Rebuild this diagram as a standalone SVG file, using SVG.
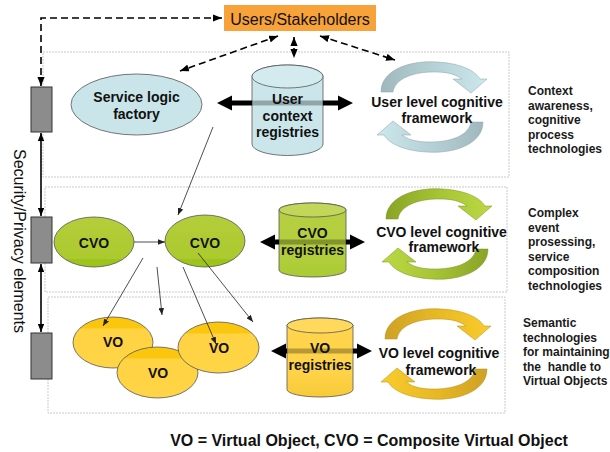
<svg xmlns="http://www.w3.org/2000/svg" xmlns:xlink="http://www.w3.org/1999/xlink" width="610" height="452" viewBox="0 0 610 452">
<style>
text{font-family:"Liberation Sans",Arial,sans-serif;fill:#111}
.b{font-weight:bold;font-size:14px}
.side{font-weight:bold;font-size:12px;fill:#1a1a1a}
.lane{fill:none;stroke:#c9c9c9;stroke-width:1;stroke-dasharray:2 1}
.dash{fill:none;stroke:#000;stroke-width:1.6;stroke-dasharray:7 4;marker-start:url(#ah);marker-end:url(#ah)}
.thin{fill:none;stroke:#222;stroke-width:0.8;marker-end:url(#ta)}
.solid{fill:none;stroke:#000;stroke-width:1.6;marker-start:url(#sa);marker-end:url(#sa)}
.thick{fill:#000}
.band{fill:#000;fill-opacity:0.28}
.gray{fill:#8c8c8c;stroke:#333;stroke-width:1}
.edge{stroke:#555;stroke-width:0.8}
</style>
<defs>
<marker id="ah" viewBox="0 0 10 8" refX="10" refY="4" markerWidth="9" markerHeight="7.2" markerUnits="userSpaceOnUse" orient="auto-start-reverse"><path d="M0,0 L10,4 L0,8 z" fill="#000"/></marker>
<marker id="sa" viewBox="0 0 10 8" refX="10" refY="4" markerWidth="8" markerHeight="6.4" markerUnits="userSpaceOnUse" orient="auto-start-reverse"><path d="M0,0 L10,4 L0,8 z" fill="#000"/></marker>
<marker id="ta" viewBox="0 0 10 8" refX="10" refY="4" markerWidth="7" markerHeight="5.6" markerUnits="userSpaceOnUse" orient="auto"><path d="M0,0 L10,4 L0,8 z" fill="#222"/></marker>
<linearGradient id="gBlue" x1="0" y1="0" x2="1" y2="0"><stop offset="0" stop-color="#9fb8bd"/><stop offset="0.45" stop-color="#b4cfd4"/><stop offset="1" stop-color="#cbe8ec"/></linearGradient>
<linearGradient id="gGreen" x1="0" y1="0" x2="1" y2="0"><stop offset="0" stop-color="#8aa326"/><stop offset="0.5" stop-color="#a6c434"/><stop offset="1" stop-color="#bcd944"/></linearGradient>
<linearGradient id="gGold" x1="0" y1="0" x2="1" y2="0"><stop offset="0" stop-color="#cfa126"/><stop offset="0.5" stop-color="#e9b923"/><stop offset="1" stop-color="#f9cc2c"/></linearGradient>
<linearGradient id="gCvo" x1="0" y1="0" x2="0" y2="1"><stop offset="0" stop-color="#b3ce3a"/><stop offset="0.84" stop-color="#acc92f"/><stop offset="0.85" stop-color="#9dc41b"/><stop offset="1" stop-color="#9dc41b"/></linearGradient>
<linearGradient id="gVo" x1="0" y1="0" x2="0" y2="1"><stop offset="0" stop-color="#fbc70e"/><stop offset="0.22" stop-color="#fbc70e"/><stop offset="0.23" stop-color="#ffd342"/><stop offset="1" stop-color="#ffd446"/></linearGradient>
<linearGradient id="gCvoCyl" x1="0" y1="0" x2="0" y2="1"><stop offset="0" stop-color="#b6cf42"/><stop offset="0.7" stop-color="#b3ce3d"/><stop offset="1" stop-color="#a9cb33"/></linearGradient>
<linearGradient id="gVoCyl" x1="0" y1="0" x2="0" y2="1"><stop offset="0" stop-color="#ffd54e"/><stop offset="0.7" stop-color="#ffd348"/><stop offset="1" stop-color="#f7ca38"/></linearGradient>
<path id="cyc" d="M -51,-15 C -51,-38 -20,-47 5,-45 C 25,-44 42,-38 48,-28 L 55,-28 L 39,-14 L 21,-28 L 30,-28 C 22,-34 12,-35 2,-35 C -20,-35 -37,-28 -39,-15 Z"/>
</defs>

<g id="lanes">
<rect class="lane" x="43" y="52" width="466" height="125"/>
<rect class="lane" x="45" y="187" width="462" height="105"/>
<rect class="lane" x="48" y="297" width="457" height="116"/>
</g>

<g id="users">
<rect x="224" y="5" width="152" height="26" fill="#f8a23a"/>
<text x="300" y="25" font-size="16" text-anchor="middle">Users/Stakeholders</text>
</g>

<g id="security">
<rect class="gray" x="31" y="87" width="21" height="45"/>
<rect class="gray" x="31" y="217" width="21" height="46"/>
<rect class="gray" x="31" y="333" width="21" height="46"/>
<text transform="translate(13.5,241) rotate(90)" font-size="16" text-anchor="middle">Security/Privacy elements</text>
</g>

<g id="service-logic">
<ellipse cx="136.5" cy="104.5" rx="65.5" ry="30.5" fill="#cae5e9" class="edge"/>
<text class="b" x="136.5" y="102" text-anchor="middle">Service logic</text>
<text class="b" x="136.5" y="119" text-anchor="middle">factory</text>
</g>

<g id="user-context">
<path d="M252,76.5 L252,144 A35.5,11.5 0 0 0 323,144 L323,76.5 A35.5,11.5 0 0 0 252,76.5 Z" fill="#cbe6ea" class="edge"/>
<ellipse cx="287.5" cy="76.5" rx="35.5" ry="11.5" fill="#d3ebee" class="edge"/>
</g>

<g id="user-cog">
<use xlink:href="#cyc" transform="translate(432,107)" fill="url(#gBlue)" stroke="#8aa0a4" stroke-width="0.5"/>
<use xlink:href="#cyc" transform="translate(432,107) rotate(180)" fill="url(#gBlue)" stroke="#8aa0a4" stroke-width="0.5"/>
<text class="b" x="437" y="107" text-anchor="middle">User level cognitive</text>
<text class="b" x="437" y="123" text-anchor="middle">framework</text>
</g>

<g id="cvo1">
<ellipse cx="94" cy="242" rx="40" ry="25" fill="url(#gCvo)" class="edge"/>
<text class="b" x="94" y="248" text-anchor="middle">CVO</text>
</g>
<g id="cvo2">
<ellipse cx="205" cy="241" rx="40" ry="26" fill="url(#gCvo)" class="edge"/>
<text class="b" x="205" y="248" text-anchor="middle">CVO</text>
</g>

<g id="cvo-registries">
<path d="M279,210 L279,270 A33.5,7 0 0 0 346,270 L346,210 A33.5,7 0 0 0 279,210 Z" fill="url(#gCvoCyl)" class="edge"/>
<ellipse cx="312.5" cy="210" rx="33.5" ry="7" fill="#c2d759" class="edge"/>
</g>

<g id="cvo-cog">
<use xlink:href="#cyc" transform="translate(437,234)" fill="url(#gGreen)" stroke="#7b8f25" stroke-width="0.5"/>
<use xlink:href="#cyc" transform="translate(437,234) rotate(180)" fill="url(#gGreen)" stroke="#7b8f25" stroke-width="0.5"/>
<text class="b" x="441.5" y="237" text-anchor="middle">CVO level cognitive</text>
<text class="b" x="444" y="252" text-anchor="middle">framework</text>
</g>

<g id="vo1">
<ellipse cx="113" cy="342.5" rx="40" ry="25.5" fill="url(#gVo)" class="edge"/>
<text class="b" x="113" y="347" text-anchor="middle">VO</text>
</g>
<g id="vo2">
<ellipse cx="157.5" cy="372.5" rx="40.5" ry="25.5" fill="url(#gVo)" class="edge"/>
<text class="b" x="158" y="378" text-anchor="middle">VO</text>
</g>
<g id="vo3">
<ellipse cx="218.5" cy="347.5" rx="40.5" ry="25.5" fill="url(#gVo)" class="edge"/>
<text class="b" x="219" y="353" text-anchor="middle">VO</text>
</g>

<g id="vo-registries">
<path d="M287,325.5 L287,389.5 A33,7.5 0 0 0 353,389.5 L353,325.5 A33,7.5 0 0 0 287,325.5 Z" fill="url(#gVoCyl)" class="edge"/>
<ellipse cx="320" cy="325.5" rx="33" ry="7.5" fill="#ffd95c" class="edge"/>
</g>

<g id="vo-cog">
<use xlink:href="#cyc" transform="translate(436,354)" fill="url(#gGold)" stroke="#b08d1a" stroke-width="0.5"/>
<use xlink:href="#cyc" transform="translate(436,354) rotate(180)" fill="url(#gGold)" stroke="#b08d1a" stroke-width="0.5"/>
<text class="b" x="439" y="358" text-anchor="middle">VO level cognitive</text>
<text class="b" x="441" y="375" text-anchor="middle">framework</text>
</g>

<g id="connectors">
<path class="dash" d="M41,86 L41,18 L222,18"/>
<path class="dash" d="M278,36 L180,71"/>
<path class="dash" d="M294,37 L294,58" stroke-dasharray="4 3"/>
<path class="dash" d="M320,36 L395,60"/>
<path class="solid" d="M41,133 L41,216"/>
<path class="solid" d="M41,264 L41,332"/>
<path class="thin" d="M213,127 L178,215"/>
<path class="thin" d="M134,242 L165,242"/>
<path class="thin" d="M143,258 L103,326"/>
<path class="thin" d="M157,267 L162,315"/>
<path class="thin" d="M183,267 L216,344"/>
<path class="thin" d="M198,253 L253,322"/>
<path class="thick" d="M217,103 L232,95.5 L232,100.5 L252,100.5 L252,105.5 L232,105.5 L232,110.5 Z"/>
<path class="thick" d="M353,103 L338,95.5 L338,100.5 L323,100.5 L323,105.5 L338,105.5 L338,110.5 Z"/>
<rect class="band" x="252" y="100.5" width="71" height="5"/>
<path class="thick" d="M260,242 L275,234.5 L275,239.5 L279,239.5 L279,244.5 L275,244.5 L275,249.5 Z"/>
<path class="thick" d="M365,242 L350,234.5 L350,239.5 L346,239.5 L346,244.5 L350,244.5 L350,249.5 Z"/>
<rect class="band" x="279" y="239.5" width="67" height="5"/>
<path class="thick" d="M271,351 L286,343.5 L286,348.5 L287,348.5 L287,353.5 L286,353.5 L286,358.5 Z"/>
<path class="thick" d="M372,351 L357,343.5 L357,348.5 L353,348.5 L353,353.5 L357,353.5 L357,358.5 Z"/>
<rect class="band" x="287" y="348.5" width="66" height="5"/>
</g>

<g id="registry-labels">
<text class="b" x="287.5" y="104" text-anchor="middle">User</text>
<text class="b" x="287.5" y="121" text-anchor="middle">context</text>
<text class="b" x="287.5" y="137" text-anchor="middle">registries</text>
<text class="b" x="312.5" y="238" text-anchor="middle">CVO</text>
<text class="b" x="312.5" y="255" text-anchor="middle">registries</text>
<text class="b" x="320" y="353" text-anchor="middle">VO</text>
<text class="b" x="320" y="370" text-anchor="middle">registries</text>
</g>

<g id="side-notes">
<text class="side" x="528" y="95">Context</text>
<text class="side" x="528" y="109.5">awareness,</text>
<text class="side" x="528" y="124">cognitive</text>
<text class="side" x="528" y="138.5">process</text>
<text class="side" x="528" y="153">technologies</text>
<text class="side" x="528" y="217">Complex</text>
<text class="side" x="528" y="231.5">event</text>
<text class="side" x="528" y="246">prosessing,</text>
<text class="side" x="528" y="260.5">service</text>
<text class="side" x="528" y="275">composition</text>
<text class="side" x="528" y="289.5">technologies</text>
<text class="side" x="523" y="327">Semantic</text>
<text class="side" x="523" y="341.5">technologies</text>
<text class="side" x="523" y="356">for maintaining</text>
<text class="side" x="523" y="370.5" xml:space="preserve">the  handle to</text>
<text class="side" x="523" y="385">Virtual Objects</text>
</g>

<g id="legend">
<text x="369" y="446" font-size="16" font-weight="bold" text-anchor="middle">VO = Virtual Object, CVO = Composite Virtual Object</text>
</g>
</svg>
